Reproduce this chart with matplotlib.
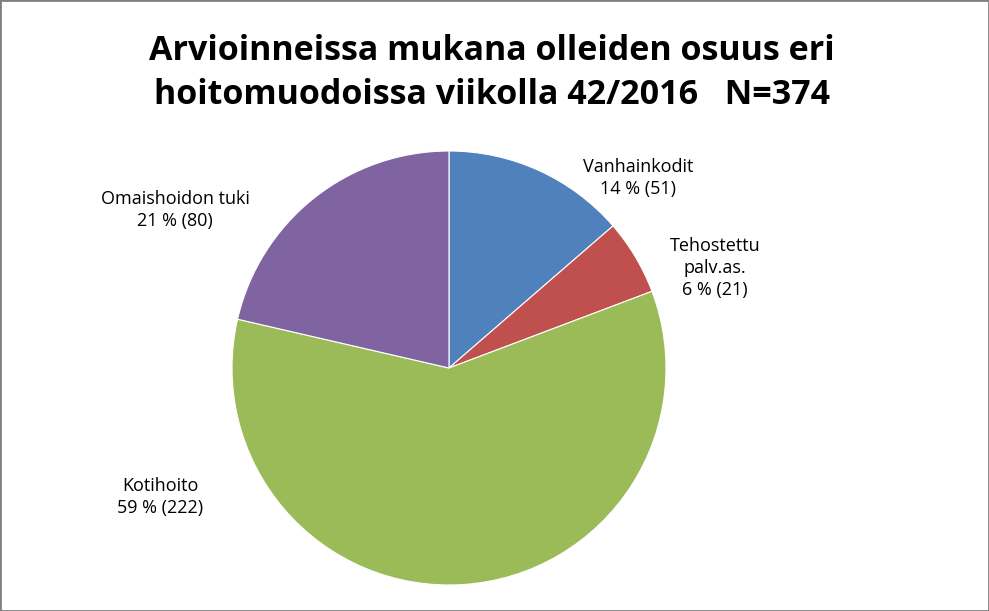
import matplotlib
matplotlib.use("Agg")
import matplotlib.pyplot as plt
from matplotlib.patches import Rectangle

categories = ["Vanhainkodit", "Tehostettu\npalv.as.", "Kotihoito", "Omaishoidon tuki"]
values = [51, 21, 222, 80]
percents = ["14 %", "6 %", "59 %", "21 %"]
colors = ["#4F81BD", "#C0504D", "#9BBB59", "#8064A2"]
title = "Arvioinneissa mukana olleiden osuus eri\nhoitomuodoissa viikolla 42/2016   N=374"

W, H = 989, 611
fig = plt.figure(figsize=(W/100, H/100), dpi=100)
fig.patches.append(Rectangle((0, 0), 1, 1, transform=fig.transFigure, fill=False,
                             edgecolor="#808080", linewidth=2))
cx, cy, r = 449, 368, 217
ax = fig.add_axes([(cx-r)/W, (H-cy-r)/H, 2*r/W, 2*r/H])
ax.pie(values, colors=colors, startangle=90, counterclock=False,
       wedgeprops=dict(edgecolor="white", linewidth=0.8))
ax.set_xlim(-1, 1)
ax.set_ylim(-1, 1)
ax.set_aspect("equal")
ax.axis("off")

fig.text(0.497, (H-73)/H, title, ha="center", va="center", fontsize=24.5,
         fontweight="bold", family="Open Sans", linespacing=1.4)

label_pos = [(638, 178), (715, 268), (160, 497), (175, 210)]
for (x, y), c, v, p in zip(label_pos, categories, values, percents):
    fig.text(x/W, (H-y)/H, f"{c}\n{p} ({v})", ha="center", va="center",
             fontsize=13, family="Open Sans", linespacing=1.3)

fig.savefig("out.png", dpi=100)
